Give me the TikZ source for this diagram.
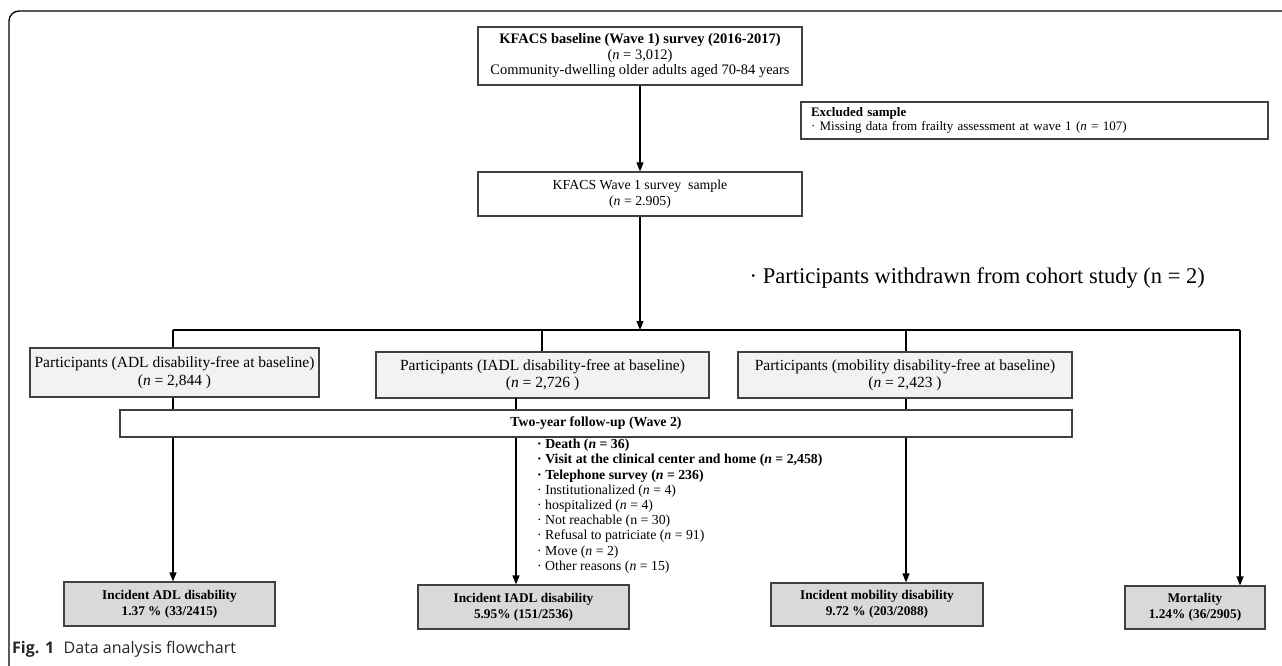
\documentclass[tikz,border=0pt]{standalone}
\usepackage{fontspec}
\setmainfont{Liberation Serif}
\newfontfamily\capfont{Open Sans}
\usetikzlibrary{arrows.meta}
\definecolor{boxline}{HTML}{404040}
\definecolor{lightfill}{HTML}{F2F2F2}
\definecolor{darkfill}{HTML}{D9D9D9}
\tikzset{
  boxst/.style={draw=boxline, line width=1.2pt, inner sep=0pt, align=center},
  conn/.style={line width=1.3pt, draw=black},
  arr/.style={conn, -{Triangle[length=9pt,width=7pt]}},
  partbox/.style={boxst, fill=lightfill, font=\fontsize{15.5}{17.5}\selectfont},
  incbox/.style={boxst, fill=darkfill, font=\fontsize{13.3}{16}\selectfont\bfseries},
}
\begin{document}
\begin{tikzpicture}[x=1pt,y=-1pt]
\useasboundingbox (0,0) rectangle (1282,666);
% frame
\draw[line width=1.3pt, rounded corners=10pt] (9,666) -- (9,11) -- (1282,11);

% top boxes
\node[boxst, minimum width=324pt, minimum height=58pt, font=\fontsize{14.5}{15.5}\selectfont] (A) at (640,56)
  {\textbf{KFACS baseline (Wave 1) survey (2016-2017)}\\(\textit{n} = 3,012)\\Community-dwelling older adults aged 70-84 years};
\node[boxst, minimum width=324pt, minimum height=44pt, font=\fontsize{13.8}{16.5}\selectfont] (B) at (640,194)
  {KFACS Wave 1 survey\ \ sample\\(\textit{n} = 2.905)};
\node[boxst, text width=447pt, inner xsep=10pt, minimum height=37pt, align=left, font=\fontsize{13}{14}\selectfont] (E) at (1034.5,120.5)
  {\textbf{Excluded sample}\\· Missing data from frailty assessment at wave 1 (\textit{n} = 107)};
\node[anchor=east, inner sep=0pt, font=\fontsize{22.5}{26}\selectfont] (W) at (1205,278)
  {· Participants withdrawn from cohort study (n = 2)};

% participant boxes
\node[partbox, minimum width=289pt, minimum height=49pt] (ADLp) at (174.5,372.5)
  {Participants (ADL disability-free at baseline)\\(\textit{n} = 2,844 )};
\node[partbox, minimum width=333pt, minimum height=46pt] (IADLp) at (542.5,375)
  {Participants (IADL disability-free at baseline)\\(\textit{n} = 2,726 )};
\node[partbox, minimum width=334pt, minimum height=46pt] (MOBp) at (905,375)
  {Participants (mobility disability-free at baseline)\\(\textit{n} = 2,423 )};

% outcome boxes
\node[incbox, minimum width=211pt, minimum height=44pt] (ADLi) at (169.5,604)
  {Incident ADL disability\\1.37 \% (33/2415)};
\node[incbox, minimum width=211pt, minimum height=44pt] (IADLi) at (523.5,607)
  {Incident IADL disability\\5.95\% (151/2536)};
\node[incbox, minimum width=212pt, minimum height=43pt] (MOBi) at (877,604.5)
  {Incident mobility disability\\9.72 \% (203/2088)};
\node[incbox, minimum width=140pt, minimum height=43pt] (MORT) at (1195,607.5)
  {Mortality\\1.24\% (36/2905)};

% junction coordinates
\coordinate (jm) at (640,330);
\coordinate (j1) at (173,330);
\coordinate (j2) at (542,330);
\coordinate (j3) at (906,330);
\coordinate (j4) at (1240,330);
\coordinate (k2) at (516,398);

% connectors
\draw[arr] (A.south) -- (B.north);
\draw[arr] (B.south) -- (jm);
\draw[conn] (j1) -- (j4);
\draw[conn] (j1) -- (ADLp.north -| j1);
\draw[conn] (j2) -- (IADLp.north -| j2);
\draw[conn] (j3) -- (MOBp.north -| j3);
\draw[arr] (j4) -- (MORT.north -| j4);
\draw[arr] (ADLp.south -| j1) -- (ADLi.north -| j1);
\draw[arr] (k2) -- (IADLi.north -| k2);
\draw[arr] (MOBp.south -| j3) -- (MOBi.north -| j3);

% follow-up box (over the connectors)
\node[boxst, fill=white, minimum width=952pt, minimum height=27pt, font=\fontsize{13.8}{15}\selectfont\bfseries] (FU) at (596,423.5)
  {Two-year follow-up (Wave 2)};

% follow-up list
\node[anchor=north west, inner sep=0pt, align=left, font=\fontsize{13.8}{15.2}\selectfont] (L) at (537,439)
  {\textbf{· Death (\textit{n} = 36)}\\
   \textbf{· Visit at the clinical center and home (\textit{n} = 2,458)}\\
   \textbf{· Telephone survey (\textit{n} = 236)}\\
   · Institutionalized (\textit{n} = 4)\\
   · hospitalized (\textit{n} = 4)\\
   · Not reachable (n = 30)\\
   · Refusal to patriciate (\textit{n} = 91)\\
   · Move (\textit{n} = 2)\\
   · Other reasons (\textit{n} = 15)};

% caption
\node[anchor=west, inner sep=0pt, font=\capfont\fontsize{16}{18}\selectfont, text=black!85] (cap) at (12,649)
  {\textbf{Fig. 1}\hspace{0.6em}Data analysis flowchart};
\end{tikzpicture}
\end{document}
